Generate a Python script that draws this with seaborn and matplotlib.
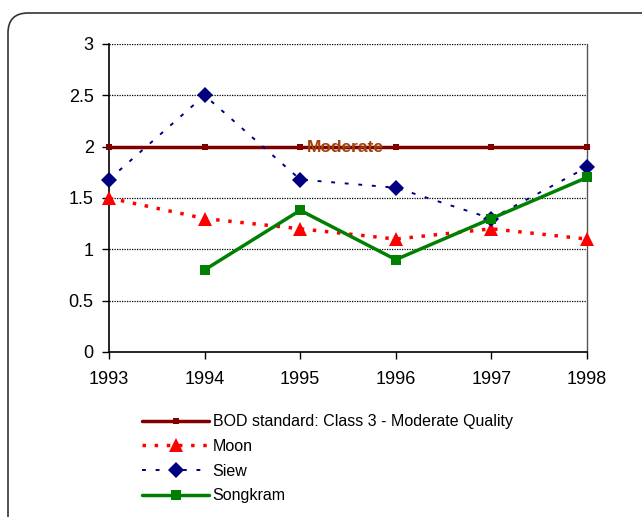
import matplotlib
matplotlib.use("Agg")
import matplotlib.pyplot as plt
import seaborn as sns
import numpy as np
import pandas as pd
from matplotlib.patches import FancyBboxPatch
from matplotlib.transforms import IdentityTransform

years = [1993, 1994, 1995, 1996, 1997, 1998]
bod_standard = [2, 2, 2, 2, 2, 2]
moon = [1.5, 1.3, 1.2, 1.1, 1.2, 1.1]
siew = [1.68, 2.5, 1.68, 1.6, 1.3, 1.8]
songkram = [np.nan, 0.8, 1.38, 0.9, 1.3, 1.7]
y_ticks = [0, 0.5, 1, 1.5, 2, 2.5, 3]
y_tick_labels = ["0", "0.5", "1", "1.5", "2", "2.5", "3"]
series_names = ["BOD standard: Class 3 - Moderate Quality", "Moon", "Siew", "Songkram"]
annotation_text = "Moderate"

sns.set_theme(style="white")
plt.rcParams['font.family'] = ['Liberation Sans', 'DejaVu Sans']
plt.rcParams['text.color'] = 'black'
plt.rcParams['xtick.color'] = 'black'
plt.rcParams['ytick.color'] = 'black'
plt.rcParams['xtick.labelcolor'] = 'black'
plt.rcParams['ytick.labelcolor'] = 'black'

fig = plt.figure(figsize=(6.42, 5.17), dpi=100)
ax = fig.add_axes([109/642, 1-352/517, (587-109)/642, (352-44)/517])

# rounded border
box = FancyBboxPatch((8, -30), 700, 517 - 13 + 30,
                     boxstyle="round,pad=0,rounding_size=20",
                     transform=IdentityTransform(), facecolor="none",
                     edgecolor="#333333", linewidth=1.2)
fig.add_artist(box)

df = pd.DataFrame({"year": years, "bod": bod_standard, "moon": moon,
                   "siew": siew, "songkram": songkram})

sns.lineplot(data=df, x="year", y="bod", ax=ax, color="#800000", lw=2.5,
             marker="s", markersize=5, markeredgewidth=0,
             label=series_names[0], clip_on=False, zorder=3)
sns.lineplot(data=df, x="year", y="moon", ax=ax, color="#FF0000", lw=2.5,
             linestyle=(0, (1, 2.5)), marker="^", markersize=10,
             markeredgewidth=0, label=series_names[1], clip_on=False, zorder=4)
sns.lineplot(data=df, x="year", y="siew", ax=ax, color="#000080", lw=1.4,
             linestyle=(0, (2, 5)), marker="D", markersize=8,
             markeredgewidth=0, label=series_names[2], clip_on=False, zorder=5)
sns.lineplot(data=df.dropna(), x="year", y="songkram", ax=ax, color="#008000",
             lw=2.5, marker="s", markersize=7, markeredgewidth=0,
             label=series_names[3], clip_on=False, zorder=6)

ax.text(1995.47, 1.99, annotation_text, color="#A0400A", fontsize=12.5,
        fontweight="bold", ha="center", va="center", zorder=7)

ax.set_xlim(1993, 1998)
ax.set_ylim(0, 3)
ax.set_xticks(years)
ax.set_xticklabels([str(y) for y in years], fontsize=13)
ax.set_yticks(y_ticks)
ax.set_yticklabels(y_tick_labels, fontsize=13)
ax.set_xlabel("")
ax.set_ylabel("")

for yv in y_ticks[1:]:
    ax.axhline(yv, color="black", lw=0.9, linestyle=(0, (1, 1)), zorder=1)

for side in ["left", "bottom"]:
    ax.spines[side].set_color("black")
    ax.spines[side].set_linewidth(1.2)
ax.spines["top"].set_visible(False)
ax.spines["right"].set_color("#555555")
ax.spines["right"].set_linewidth(1.0)

ax.tick_params(axis="both", direction="out", length=5, width=1, color="black",
               labelcolor="black", bottom=True, left=True, pad=6)
ax.tick_params(axis="x", pad=9)

ax.legend_.remove()
handles, labels = ax.get_legend_handles_labels()
fig.legend(handles, labels, loc="upper left",
           bbox_to_anchor=(128/642, 1 - 400/517), frameon=False,
           fontsize=11.5, handlelength=4.2, labelspacing=0.6,
           handletextpad=0.2, numpoints=1)

fig.savefig("out.png", dpi=100)
